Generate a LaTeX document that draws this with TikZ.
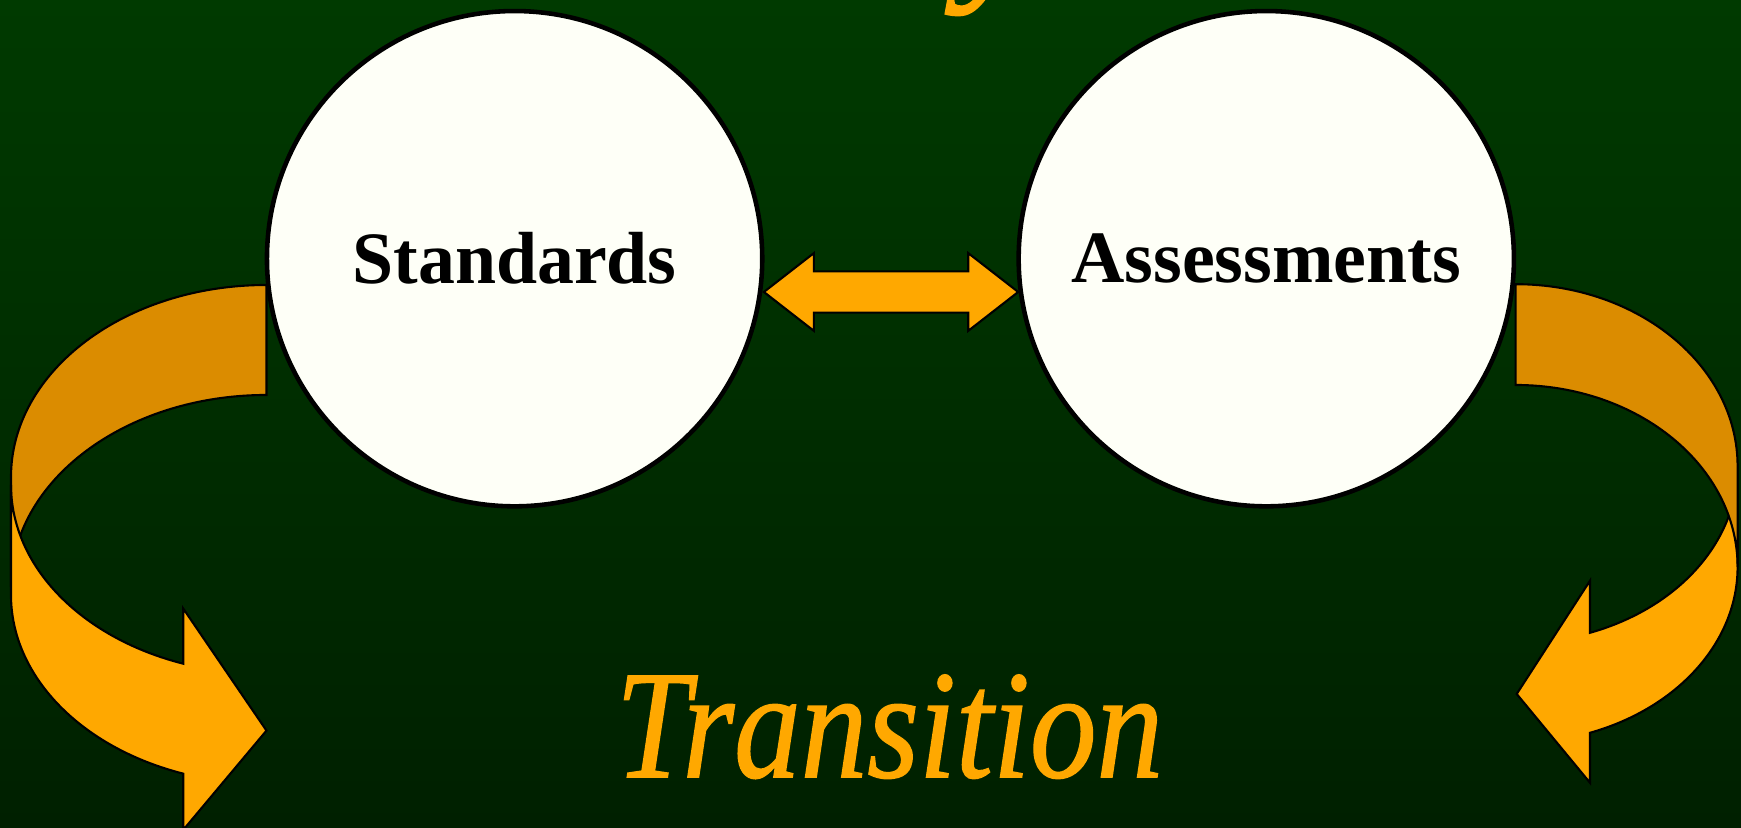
\documentclass[tikz,border=0pt]{standalone}
\usepackage{fontspec}
\setmainfont{Liberation Serif}
\newfontfamily\capfont{Liberation Serif}[FakeBold=1]
\usetikzlibrary{calc}

\definecolor{bgtop}{RGB}{0,58,0}
\definecolor{bgmid}{RGB}{0,50,0}
\definecolor{bgbot}{RGB}{0,32,0}
\definecolor{amber}{RGB}{255,168,0}
\definecolor{amberdark}{RGB}{219,140,0}
\definecolor{disc}{RGB}{254,255,247}

\begin{document}
\begin{tikzpicture}[x=0.01cm, y=0.01cm,
  band/.style={draw=black, line width=0.6pt, line join=miter},
  front/.style={band, fill=amber},
  back/.style={band, fill=amberdark},
  topic/.style={circle, draw=black, line width=1.3pt, fill=disc,
    minimum size=4.95cm, inner sep=0pt,
    font=\fontsize{21}{25}\selectfont\bfseries},
  headline/.style={text=amber, inner sep=0pt, xscale=0.86,
    font=\fontsize{44}{50}\selectfont\capfont\itshape}]

\useasboundingbox (0,0) rectangle (1741,828);
\clip (0,0) rectangle (1741,828);

% background
\shade[top color=bgtop, middle color=bgmid, bottom color=bgbot]
  (0,0) rectangle (1741,828);

% tail of the heading line above
\node[headline, xscale=1.163, anchor=base west,
  font=\fontsize{52}{58}\selectfont\capfont\itshape] (head) at (960,852) {y};

% left curved arrow: rear band first, front band over it
\draw[back] (266.5,543)
  arc[start angle=90, end angle=180, x radius=255.5, y radius=192]
  -- (11,241)
  arc[start angle=180, end angle=90, x radius=255.5, y radius=192]
  -- cycle;
\draw[front] (11,343) -- (11,233)
  arc[start angle=180, end angle=250.97, x radius=255.5, y radius=189]
  -- (183.2,-2) -- (266.5,97.4) -- (183.2,219.5) -- (183.2,164.3)
  arc[start angle=250.97, end angle=180, x radius=255.5, y radius=189]
  -- cycle;

% right curved arrow: here the rear band lies on top
\draw[front] (1737.6,361) -- (1737.6,261)
  arc[start angle=0, end angle=-70.42, x radius=222, y radius=176]
  -- (1590,45.2) -- (1516.7,134) -- (1590,247.3) -- (1590,195.2)
  arc[start angle=-70.42, end angle=0, x radius=222, y radius=176]
  -- cycle;
\draw[back] (1515.6,543.8)
  arc[start angle=90, end angle=0, x radius=222, y radius=182]
  -- (1737.6,261)
  arc[start angle=0, end angle=90, x radius=222, y radius=182]
  -- cycle;

% the two topics
\node[topic] (std) at (514.6,569.3) {Standards};
\node[topic] (asm) at (1266.3,569.3) {Assessments};

% double arrow between them
\coordinate (lt) at ($(std.center)+(249.3,-33.3)$);
\coordinate (rt) at ($(asm.center)+(-248.1,-33.3)$);
\draw[front] (lt) -- ++(50,38.9) -- ++(0,-18.3)
  -- ($(rt)+(-50,20.6)$) -- ++(0,18.3) -- (rt)
  -- ++(-50,-38.9) -- ++(0,18.3)
  -- ($(lt)+(50,-20.6)$) -- ++(0,-18.3) -- cycle;

% caption
\node[headline, anchor=base] (cap) at (889.4,50.8) {Transition};
\end{tikzpicture}
\end{document}
